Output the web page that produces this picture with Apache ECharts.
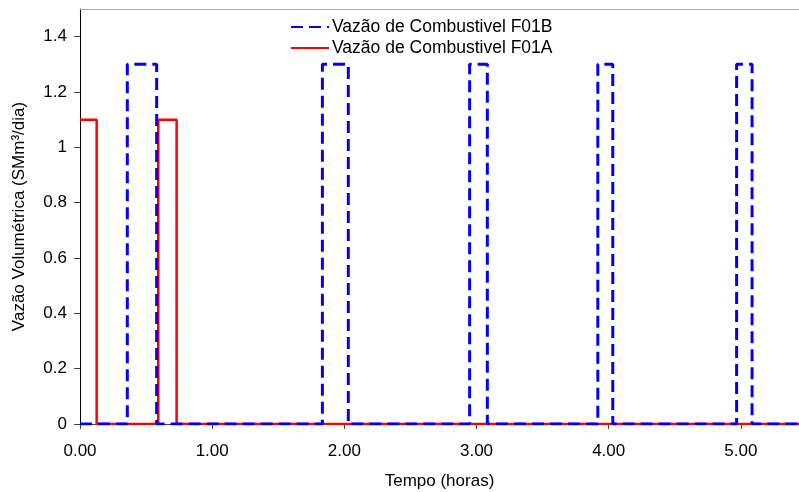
<!DOCTYPE html>
<html><head><meta charset="utf-8">
<script src="https://cdn.jsdelivr.net/npm/echarts@6/dist/echarts.min.js"></script>
<style>html,body{margin:0;padding:0;background:#fff}#c{width:799px;height:492px}</style>
</head><body><div id="c"></div>
<script>
// Series data: [time (h), flow (SMm3/dia)]
const seriesNames = ['Vazão de Combustivel F01B', 'Vazão de Combustivel F01A'];
const f01bTime = [0, 0.358, 0.358, 0.58, 0.58, 1.834, 1.834, 2.03, 2.03, 2.948, 2.948, 3.082, 3.082, 3.918, 3.918, 4.031, 4.031, 4.968, 4.968, 5.085, 5.085, 5.44];
const f01bFlow = [0, 0, 1.3, 1.3, 0, 0, 1.3, 1.3, 0, 0, 1.3, 1.3, 0, 0, 1.3, 1.3, 0, 0, 1.3, 1.3, 0, 0];
const f01aTime = [0, 0.126, 0.126, 0.592, 0.592, 0.731, 0.731, 5.44];
const f01aFlow = [1.1, 1.1, 0, 0, 1.1, 1.1, 0, 0];
const yTicks = [0, 0.2, 0.4, 0.6, 0.8, 1, 1.2, 1.4];
const xTicks = [0, 1, 2, 3, 4, 5];

const pair = (t, v) => t.map((x, i) => [x, v[i]]);
const font = 'Liberation Sans, Arial, sans-serif';
const chart = echarts.init(document.getElementById('c'), null, {renderer: 'canvas'});
chart.setOption({
  animation: false,
  backgroundColor: '#fff',
  grid: {left: 80, right: 0, top: 9, bottom: 68, containLabel: false, outerBoundsMode: 'none'},
  legend: {
    orient: 'vertical', left: 285, top: 13, itemGap: 3, itemWidth: 38, itemHeight: 16,
    data: [seriesNames[0], seriesNames[1]],
    itemStyle: {opacity: 0},
    textStyle: {fontFamily: font, fontSize: 17.5, color: '#000', padding: [0, 0, 0, -2]}
  },
  xAxis: [{
    type: 'value', min: 0, max: 5.44, position: 'bottom',
    name: 'Tempo (horas)', nameLocation: 'middle', nameGap: 49,
    nameTextStyle: {fontFamily: font, fontSize: 17, color: '#000'},
    axisLine: {show: true, onZero: false, lineStyle: {color: '#444', width: 1}},
    axisTick: {show: true, length: 5, inside: false, customValues: xTicks, lineStyle: {color: '#444'}},
    axisLabel: {customValues: xTicks, margin: 19, fontFamily: font, fontSize: 17, color: '#000',
      formatter: v => v.toFixed(2)},
    splitLine: {show: false}
  }, {
    type: 'value', min: 0, max: 5.44, position: 'top',
    axisLine: {show: true, onZero: false, lineStyle: {color: '#aaa', width: 1}},
    axisTick: {show: false}, axisLabel: {show: false}, splitLine: {show: false}
  }],
  yAxis: {
    type: 'value', min: 0, max: 1.5,
    name: 'Vazão Volumétrica (SMm³/dia)', nameLocation: 'middle', nameGap: 52, nameRotate: 90,
    nameTextStyle: {fontFamily: font, fontSize: 17, color: '#000'},
    axisLine: {show: true, onZero: false, lineStyle: {color: '#000', width: 1}},
    axisTick: {show: true, length: 6, inside: false, customValues: yTicks, lineStyle: {color: '#444'}},
    axisLabel: {customValues: yTicks, margin: 13, fontFamily: font, fontSize: 17, color: '#000',
      formatter: v => String(v)},
    splitLine: {show: false}
  },
  series: [{
    name: seriesNames[1], type: 'line', symbol: 'none', z: 2,
    data: pair(f01aTime, f01aFlow),
    lineStyle: {color: '#ff0000', width: 2.5, type: 'solid'},
    itemStyle: {color: '#ff0000'}
  }, {
    name: seriesNames[0], type: 'line', symbol: 'none', z: 3,
    data: pair(f01bTime, f01bFlow),
    lineStyle: {color: '#0000ff', width: 3, type: [12, 6]},
    itemStyle: {color: '#0000ff'}
  }]
});
</script></body></html>
